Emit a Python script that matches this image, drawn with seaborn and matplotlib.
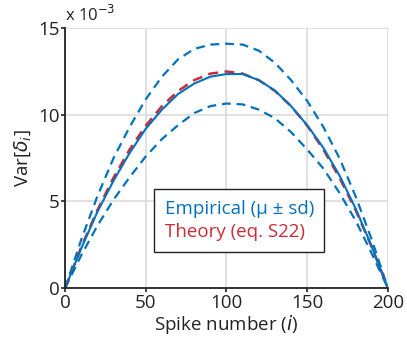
import numpy as np
import pandas as pd
import matplotlib
matplotlib.use("Agg")
import matplotlib.pyplot as plt
import seaborn as sns
from matplotlib.lines import Line2D

spike = [0, 10, 20, 30, 40, 50, 60, 70, 80, 90, 100, 110, 120, 130, 140, 150, 160, 170, 180, 190, 200]
theory = [0, 2.375, 4.5, 6.375, 8.0, 9.375, 10.5, 11.375, 12.0, 12.375, 12.5, 12.375, 12.0, 11.375, 10.5, 9.375, 8.0, 6.375, 4.5, 2.375, 0]
emp_mean = [0, 2.3, 4.4, 6.2, 7.8, 9.2, 10.3, 11.2, 11.8, 12.2, 12.35, 12.35, 12.0, 11.4, 10.5, 9.4, 8.1, 6.5, 4.6, 2.4, 0]
emp_upper = [0, 2.8, 5.3, 7.5, 9.3, 10.9, 12.2, 13.2, 13.8, 14.05, 14.1, 14.05, 13.7, 13.0, 12.0, 10.8, 9.3, 7.5, 5.3, 2.8, 0]
emp_lower = [0, 1.9, 3.6, 5.1, 6.4, 7.6, 8.6, 9.4, 10.1, 10.5, 10.65, 10.6, 10.3, 9.8, 9.0, 8.0, 6.9, 5.5, 3.9, 2.0, 0]
xticks = [0, 50, 100, 150, 200]
yticks = [0, 5, 10, 15]

BLUE = "#0072BD"
RED = "#CC2B36"

sns.set_style("white")
plt.rcParams['font.family'] = ['Open Sans', 'DejaVu Sans']

fig = plt.figure(figsize=(4.07, 3.43), dpi=100)
ax = fig.add_axes([0.160, 0.160, 0.793, 0.758])

df = pd.DataFrame({"i": spike, "theory": theory, "mean": emp_mean,
                   "upper": emp_upper, "lower": emp_lower})

sns.lineplot(data=df, x="i", y="upper", ax=ax, color=BLUE, lw=1.6)
ax.lines[-1].set_dashes([4, 2.6])
sns.lineplot(data=df, x="i", y="lower", ax=ax, color=BLUE, lw=1.6)
ax.lines[-1].set_dashes([4, 2.6])
sns.lineplot(data=df, x="i", y="theory", ax=ax, color=RED, lw=1.8)
ax.lines[-1].set_dashes([4, 2.6])
sns.lineplot(data=df, x="i", y="mean", ax=ax, color=BLUE, lw=1.5)

ax.set_xlim(0, 200)
ax.set_ylim(0, 15)
ax.set_xticks(xticks)
ax.set_yticks(yticks)
ax.set_xticklabels([str(t) for t in xticks], fontsize=13.5)
ax.set_yticklabels([str(t) for t in yticks], fontsize=13.5)
ax.grid(True, color="#dcdcdc", lw=1.2)
ax.set_axisbelow(True)
for s in ["top", "right"]:
    ax.spines[s].set_visible(False)
for s in ["left", "bottom"]:
    ax.spines[s].set_color("#222222")
    ax.spines[s].set_linewidth(1.3)
ax.tick_params(axis="both", which="major", direction="out", length=3, width=1.2,
               color="#222222", pad=1, labelcolor="#222222", left=True, bottom=True)
ax.set_xlabel("Spike number ($\\it{i}$)", fontsize=13.5, color="#222222", labelpad=1)
ax.set_ylabel("Var[$\\delta_i$]", fontsize=13.5, color="#222222", labelpad=4)
ax.text(0.0, 15.2, "x 10$^{-3}$", fontsize=12, color="#222222", ha="left", va="bottom",
        transform=ax.transData)

handles = [Line2D([], [], lw=0), Line2D([], [], lw=0)]
leg = ax.legend(handles, ["Empirical (\u03bc \u00b1 sd)", "Theory (eq. S22)"],
                loc="center", bbox_to_anchor=(0.54, 0.26), fontsize=13.5,
                handlelength=0, handletextpad=0, frameon=True, fancybox=False,
                edgecolor="#222222", framealpha=1, borderpad=0.55, labelspacing=0.3)
leg.get_frame().set_linewidth(1.0)
for t, c in zip(leg.get_texts(), [BLUE, RED]):
    t.set_color(c)

fig.savefig("out.png", dpi=100)
